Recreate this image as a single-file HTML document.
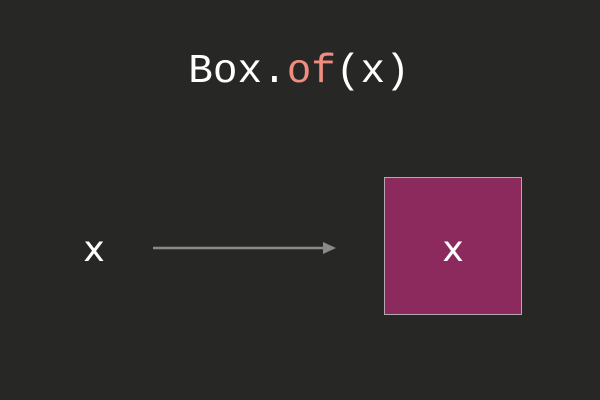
<!DOCTYPE html>
<html><head><style>
html,body{margin:0;padding:0;background:#272725;}
</style></head><body>
<svg width="600" height="400" xmlns="http://www.w3.org/2000/svg" style="display:block">
<rect width="600" height="400" fill="#272725"/>
<text x="299" y="82" text-anchor="middle" font-family="Liberation Mono, monospace" font-size="41" fill="#ffffff">Box.<tspan fill="#f08c80">of</tspan>(x)</text>
<text x="94" y="261" text-anchor="middle" font-family="DejaVu Sans, sans-serif" font-size="36" fill="#ffffff">x</text>
<line x1="153" y1="248" x2="325" y2="248" stroke="#8a8a88" stroke-width="2.5"/>
<polygon points="323,242 336,248 323,254" fill="#8a8a88"/>
<rect x="384.5" y="177.5" width="137" height="137" fill="#8c2a5e" stroke="#b0a8ac" stroke-width="1"/>
<text x="453" y="261" text-anchor="middle" font-family="DejaVu Sans, sans-serif" font-size="36" fill="#ffffff">x</text>
</svg>
</body></html>
